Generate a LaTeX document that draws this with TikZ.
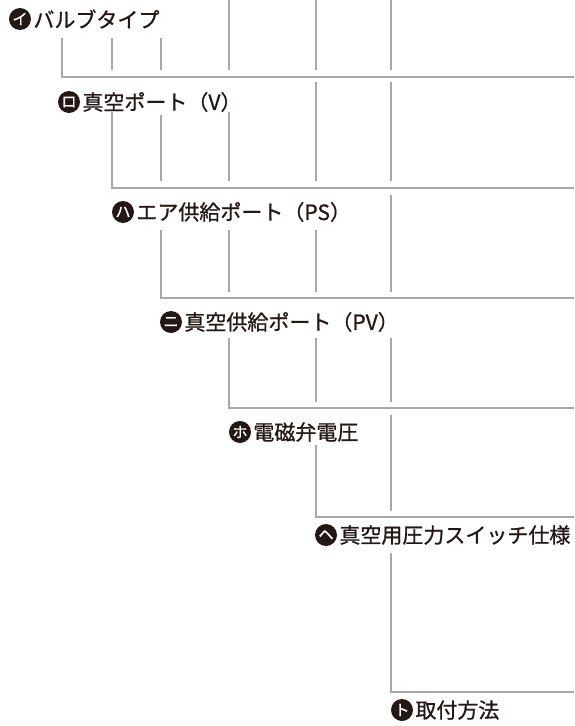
\documentclass[tikz,border=0pt]{standalone}
\usepackage{fontspec}
\usetikzlibrary{positioning}
\newfontfamily\jpfont[FakeBold=0.9]{Noto Sans CJK JP}
\newfontfamily\jpbadge[FakeBold=1.4]{Noto Sans CJK JP}
\definecolor{ink}{RGB}{35,24,21}
\definecolor{rulegray}{RGB}{168,168,168}
\tikzset{
  badge/.style={circle,fill=ink,text=white,inner sep=0pt,minimum size=22pt,
    font=\jpbadge\fontsize{15}{15}\selectfont},
  item/.style={right=2pt of #1,inner sep=0pt,text=ink,
    font=\jpfont\fontsize{21}{21}\selectfont},
  rule/.style={draw=rulegray,line width=1.8pt},
}

\begin{document}
\begin{tikzpicture}[x=1pt,y=-1pt]
  \useasboundingbox (0,0) rectangle (574,726);

  % labels
  \node[badge] (b1) at (20,19) {イ};
  \node[item=b1] (t1) {バルブタイプ};
  \node[badge] (b2) at (69,102) {ロ};
  \node[item=b2] (t2) {真空ポート（V）};
  \node[badge] (b3) at (123,212) {ハ};
  \node[item=b3] (t3) {エア供給ポート（PS）};
  \node[badge] (b4) at (171,322) {ニ};
  \node[item=b4] (t4) {真空供給ポート（PV）};
  \node[badge] (b5) at (240,432) {ホ};
  \node[item=b5] (t5) {電磁弁電圧};
  \node[badge] (b6) at (326,535) {ヘ};
  \node[item=b6] (t6) {真空用圧力スイッチ仕様};
  \node[badge] (b7) at (402,710) {ト};
  \node[item=b7] (t7) {取付方法};

  % brackets to the code positions
  \foreach \x/\ya/\yh [count=\i] in {62/38/77, 112/112/188, 161/230/298,
      229/338/408, 316/445/517, 391/553/692}{
    \coordinate (e\i) at (574,\yh);
    \draw[rule] (\x,\ya) |- (e\i);
  }

  % lines running past the rows
  \foreach \x/\ya/\yb in {112/38/70, 161/38/70, 161/115/181,
      229/0/70, 229/112/181, 229/230/292,
      316/0/70, 316/82/181, 316/230/292, 316/338/402,
      391/0/70, 391/82/181, 391/195/292, 391/338/402, 391/415/511}
    \draw[rule] (\x,\ya) -- (\x,\yb);
\end{tikzpicture}
\end{document}
